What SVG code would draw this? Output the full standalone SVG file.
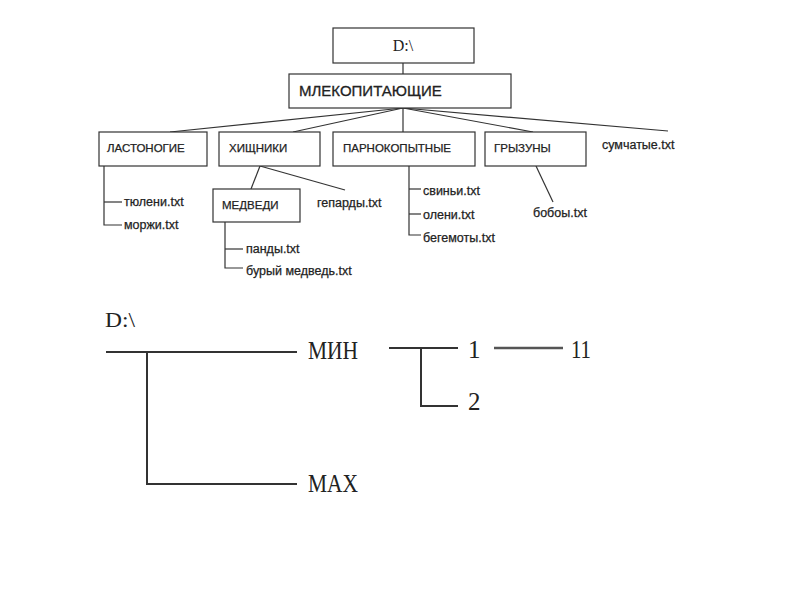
<svg xmlns="http://www.w3.org/2000/svg" width="800" height="600" viewBox="0 0 800 600">
<style>
.box{fill:#fff;stroke:#333;stroke-width:1.2}
.ln{stroke:#333;stroke-width:1.2;fill:none}
.ln2{stroke:#333;stroke-width:2;fill:none}
.s{font-family:"Liberation Sans",Arial,sans-serif;font-size:11.5px;fill:#222;stroke:#222;stroke-width:0.25}
.f{font-family:"Liberation Sans",Arial,sans-serif;font-size:12.5px;fill:#222;stroke:#222;stroke-width:0.25}
.sb{font-family:"Liberation Sans",Arial,sans-serif;font-size:15px;fill:#222;stroke:#222;stroke-width:0.3}
.r{font-family:"Liberation Serif","Times New Roman",serif;fill:#222}
</style>
<rect width="800" height="600" fill="#fff"/>
<g id="connectors">
<line class="ln" x1="403" y1="63" x2="403" y2="74"/>
<line class="ln" x1="403" y1="108" x2="170" y2="132"/>
<line class="ln" x1="403" y1="108" x2="293" y2="132"/>
<line class="ln" x1="403" y1="108" x2="403" y2="132"/>
<line class="ln" x1="403" y1="108" x2="533" y2="132"/>
<line class="ln" x1="403" y1="108" x2="668" y2="131"/>
<polyline class="ln" points="104,166 104,225 122,225"/>
<line class="ln" x1="104" y1="202" x2="122" y2="202"/>
<line class="ln" x1="260" y1="166" x2="251" y2="189"/>
<line class="ln" x1="260" y1="166" x2="345" y2="190"/>
<polyline class="ln" points="225,222 225,268 243,268"/>
<line class="ln" x1="225" y1="249" x2="243" y2="249"/>
<polyline class="ln" points="409,166 409,235 421,235"/>
<line class="ln" x1="409" y1="189" x2="421" y2="189"/>
<line class="ln" x1="409" y1="214" x2="421" y2="214"/>
<line class="ln" x1="536" y1="166" x2="553" y2="202"/>
<line class="ln2" x1="106" y1="352" x2="297" y2="352"/>
<polyline class="ln2" points="147,352 147,484 297,484"/>
<line class="ln2" x1="389" y1="348" x2="458" y2="348"/>
<polyline class="ln2" points="421,348 421,406 458,406"/>
<line stroke="#555" stroke-width="2.5" x1="494" y1="348" x2="563" y2="348"/>
</g>
<g id="root">
<rect class="box" x="333" y="28" width="141" height="35"/>
<text class="r" x="403" y="51" font-size="16" text-anchor="middle">D:\</text>
</g>
<g id="mlek">
<rect class="box" x="289" y="74" width="222" height="34"/>
<text class="sb" x="299" y="96">МЛЕКОПИТАЮЩИЕ</text>
</g>
<g id="lastonogie">
<rect class="box" x="99" y="132" width="108" height="34"/>
<text class="s" x="107" y="152">ЛАСТОНОГИЕ</text>
</g>
<g id="hishniki">
<rect class="box" x="219" y="132" width="101" height="34"/>
<text class="s" x="229" y="152">ХИЩНИКИ</text>
</g>
<g id="parnokop">
<rect class="box" x="333" y="132" width="142" height="34"/>
<text class="s" x="343" y="152">ПАРНОКОПЫТНЫЕ</text>
</g>
<g id="gryzuny">
<rect class="box" x="485" y="132" width="101" height="34"/>
<text class="s" x="494" y="152">ГРЫЗУНЫ</text>
</g>
<g id="medvedi">
<rect class="box" x="213" y="189" width="87" height="33"/>
<text class="s" x="222" y="209">МЕДВЕДИ</text>
</g>
<g id="files">
<text class="f" x="602" y="149">сумчатые.txt</text>
<text class="f" x="124" y="206">тюлени.txt</text>
<text class="f" x="124" y="229">моржи.txt</text>
<text class="f" x="317" y="207">гепарды.txt</text>
<text class="f" x="246" y="253">панды.txt</text>
<text class="f" x="246" y="275">бурый медведь.txt</text>
<text class="f" x="423" y="195">свиньи.txt</text>
<text class="f" x="423" y="219">олени.txt</text>
<text class="f" x="423" y="242">бегемоты.txt</text>
<text class="f" x="533" y="217">бобоы.txt</text>
</g>
<g id="tree2">
<text class="r" x="105" y="327" font-size="22" textLength="30" lengthAdjust="spacingAndGlyphs">D:\</text>
<text class="r" x="308" y="359" font-size="26" textLength="50" lengthAdjust="spacingAndGlyphs">МИН</text>
<text class="r" x="308" y="492" font-size="26" textLength="50" lengthAdjust="spacingAndGlyphs">MAX</text>
<text class="r" x="468" y="358" font-size="25">1</text>
<text class="r" x="571" y="358" font-size="25" textLength="20" lengthAdjust="spacingAndGlyphs">11</text>
<text class="r" x="468" y="410" font-size="25">2</text>
</g>
</svg>
